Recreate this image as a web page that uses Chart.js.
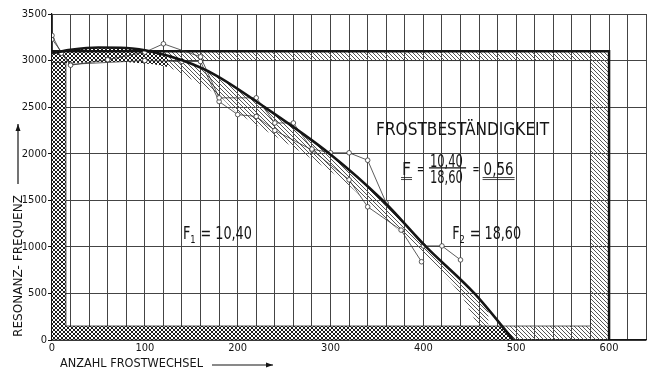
<!DOCTYPE html>
<html>
<head>
<meta charset="utf-8">
<script src="https://cdn.jsdelivr.net/npm/chart.js@4.4.1/dist/chart.umd.min.js"></script>
<style>
  html, body { margin: 0; padding: 0; background: #fff; }
  #box { width: 651px; height: 372px; }
</style>
</head>
<body>
<div id="box"><canvas id="myChart"></canvas></div>
<script>
// values
const curveX = [0, 20, 50, 80, 110, 141, 175, 229, 299, 356, 403, 455, 497];
const curveY = [3080, 3115, 3140, 3135, 3090, 3000, 2850, 2500, 2000, 1500, 1000, 500, 0];

// inner edge of the hatched band under the curve
const bandX = [0, 20, 50, 80, 110, 125, 150, 180, 200, 245, 285, 315, 345, 382, 417, 439, 457, 470];
const bandY = [2980, 2975, 2985, 2985, 2960, 2930, 2800, 2620, 2440, 2160, 1910, 1700, 1430, 1100, 750, 505, 190, 0];

// measured series (thin lines with circles)
const serAX = [0, 10, 20, 60, 100, 120, 160, 180, 220, 240, 260, 280, 300, 320, 340, 360, 400, 420, 440];
const serAY = [3270, 3080, 2950, 3010, 3090, 3180, 3040, 2600, 2600, 2330, 2330, 2050, 2010, 2010, 1930, 1470, 1010, 1010, 860];
const serBX = [0, 20, 100, 140, 160, 180, 200, 220, 240, 280, 320, 340, 376, 398];
const serBY = [3230, 2960, 3000, 2990, 2990, 2560, 2420, 2400, 2250, 2040, 1720, 1430, 1180, 840];

// frame and hatched areas
const frameX = [0, 600, 600];
const frameY = [3100, 3100, 0];
const hatchX = [100, 600, 600, 497, 483, 580, 580, 100];
const hatchY = [3100, 3100, 0, 0, 150, 150, 3000, 3000];
const crossX = [0, 497, 483, 15, 15, 0];
const crossY = [0, 0, 150, 150, 2980, 2980];
const capX = [0, 20, 50, 80, 110, 125, 125, 110, 80, 50, 20, 0];
const capY = [3080, 3115, 3140, 3135, 3090, 3050, 2930, 2960, 2985, 2985, 2975, 2980];

const fam = "'DejaVu Sans Condensed', 'DejaVu Sans', sans-serif";
const ink = '#151515';

function pts(xs, ys) {
  return xs.map((v, i) => ({x: v, y: ys[i]}));
}

function hatch(gap, color, both, bg) {
  const c = document.createElement('canvas');
  c.width = gap; c.height = gap;
  const g = c.getContext('2d');
  if (bg) { g.fillStyle = bg; g.fillRect(0, 0, gap, gap); }
  g.strokeStyle = color;
  g.lineWidth = 1;
  g.beginPath();
  for (let k = -1; k <= 1; k++) {
    g.moveTo(k * gap, 0); g.lineTo(k * gap + gap, gap);
    if (both) { g.moveTo(k * gap + gap, 0); g.lineTo(k * gap, gap); }
  }
  g.stroke();
  return g.createPattern(c, 'repeat');
}

const diag = hatch(4, '#555', false, null);
const cross = hatch(4, '#1a1a1a', true, '#fff');

// text squeezed to a width, like the narrow lettering of the scan
function fitText(ctx, txt, px, py, size, width) {
  ctx.font = size + 'px ' + fam;
  const w = ctx.measureText(txt).width;
  ctx.save();
  ctx.translate(px, py);
  ctx.scale(width / w, 1);
  ctx.fillText(txt, 0, 0);
  ctx.restore();
}

function fLabel(ctx, px, py, sub, rest, width) {
  ctx.font = '17px ' + fam;
  const w1 = ctx.measureText('F').width;
  const w3 = ctx.measureText(rest).width;
  ctx.font = '11px ' + fam;
  const w2 = ctx.measureText(sub).width + 1;
  const s = width / (w1 + w2 + w3);
  ctx.save();
  ctx.translate(px, py);
  ctx.scale(s, 1);
  ctx.font = '17px ' + fam;
  ctx.fillText('F', 0, 0);
  ctx.fillText(rest, w1 + w2, 0);
  ctx.font = '11px ' + fam;
  ctx.fillText(sub, w1, 4);
  ctx.restore();
}

function arrow(ctx, x1, y1, x2, y2) {
  const a = Math.atan2(y2 - y1, x2 - x1);
  ctx.beginPath();
  ctx.moveTo(x1, y1); ctx.lineTo(x2, y2);
  ctx.lineWidth = 1.2;
  ctx.stroke();
  ctx.beginPath();
  ctx.moveTo(x2, y2);
  ctx.lineTo(x2 - 7 * Math.cos(a) + 2.5 * Math.sin(a), y2 - 7 * Math.sin(a) - 2.5 * Math.cos(a));
  ctx.lineTo(x2 - 7 * Math.cos(a) - 2.5 * Math.sin(a), y2 - 7 * Math.sin(a) + 2.5 * Math.cos(a));
  ctx.closePath();
  ctx.fill();
}

const notes = {
  id: 'notes',
  afterDatasetsDraw(chart) {
    const {ctx, chartArea: a, scales: {x, y}} = chart;
    ctx.save();
    ctx.fillStyle = ink;
    ctx.strokeStyle = ink;
    ctx.textAlign = 'left';
    ctx.textBaseline = 'alphabetic';

    fLabel(ctx, x.getPixelForValue(141), y.getPixelForValue(1084), '1', ' = 10,40', 69);
    fLabel(ctx, x.getPixelForValue(431), y.getPixelForValue(1084), '2', ' = 18,60', 69);

    fitText(ctx, 'FROSTBESTÄNDIGKEIT', x.getPixelForValue(349), y.getPixelForValue(2201), 18, 173);

    // F = 10,40 / 18,60 = 0,56
    const fx = x.getPixelForValue(377), by = y.getPixelForValue(1771);
    fitText(ctx, 'F', fx, by, 18, 9);
    fitText(ctx, '=', fx + 15, by - 1, 16, 7);
    fitText(ctx, '10,40', x.getPixelForValue(406) + 1, y.getPixelForValue(1857), 17, 33);
    fitText(ctx, '18,60', x.getPixelForValue(406) + 1, y.getPixelForValue(1686), 17, 33);
    ctx.lineWidth = 1.2;
    ctx.beginPath();
    const barY = y.getPixelForValue(1847);
    ctx.moveTo(x.getPixelForValue(406), barY); ctx.lineTo(x.getPixelForValue(446), barY);
    ctx.stroke();
    const ex = x.getPixelForValue(453);
    fitText(ctx, '=', ex, by - 1, 16, 7);
    fitText(ctx, '0,56', ex + 11, by, 18, 30);
    ctx.lineWidth = 0.8;
    ctx.beginPath();
    for (const off of [2.5, 4.5]) {
      ctx.moveTo(fx - 1, by + off); ctx.lineTo(fx + 10, by + off);
      ctx.moveTo(ex + 10, by + off); ctx.lineTo(ex + 42, by + off);
    }
    ctx.stroke();

    // axis titles with arrows
    fitText(ctx, 'ANZAHL FROSTWECHSEL', a.left + 8, 367, 12, 143);
    arrow(ctx, a.left + 160, 365, a.left + 221, 365);

    ctx.save();
    ctx.translate(22, 337);
    ctx.rotate(-Math.PI / 2);
    fitText(ctx, 'RESONANZ- FREQUENZ', 0, 0, 12, 142);
    ctx.restore();
    arrow(ctx, 18, 184, 18, 124);
    ctx.restore();
  }
};

const lineBase = {pointRadius: 0, fill: false, tension: 0};

const config = {
  type: 'line',
  data: {
    datasets: [
      // hatched band along the curve
      {...lineBase, data: pts(curveX, curveY), cubicInterpolationMode: 'monotone', borderColor: 'transparent', borderWidth: 0, fill: '+1', backgroundColor: diag, order: 6},
      {...lineBase, data: pts(bandX, bandY), tension: 0.3, borderColor: 'transparent', borderWidth: 0, order: 6},
      // hatched frame
      {...lineBase, data: pts(hatchX, hatchY), borderColor: '#333', borderWidth: 0.8, fill: 'shape', backgroundColor: diag, order: 5},
      // cross hatched areas
      {...lineBase, data: pts(crossX, crossY), borderColor: '#222', borderWidth: 0.8, fill: 'shape', backgroundColor: cross, order: 4},
      {...lineBase, data: pts(capX, capY), borderColor: 'transparent', borderWidth: 0, fill: 'shape', backgroundColor: cross, order: 4},
      // outer frame
      {...lineBase, data: pts(frameX, frameY), borderColor: ink, borderWidth: 2.5, order: 3},
      // measured values
      {...lineBase, data: pts(serAX, serAY), borderColor: '#333', borderWidth: 0.8, pointRadius: 2.3, pointBorderWidth: 0.8, pointBorderColor: '#333', pointBackgroundColor: '#fff', order: 2},
      {...lineBase, data: pts(serBX, serBY), borderColor: '#333', borderWidth: 0.8, pointRadius: 2.3, pointBorderWidth: 0.8, pointBorderColor: '#333', pointBackgroundColor: '#fff', order: 2},
      // fitted curve
      {...lineBase, data: pts(curveX, curveY), cubicInterpolationMode: 'monotone', borderColor: ink, borderWidth: 2.6, order: 1}
    ]
  },
  options: {
    animation: false,
    responsive: true,
    maintainAspectRatio: false,
    layout: {padding: {top: 14, right: 4, left: 0, bottom: 0}},
    plugins: {legend: {display: false}, tooltip: {enabled: false}},
    scales: {
      x: {
        type: 'linear', min: 0, max: 640,
        afterFit: s => { s.height = 32; },
        ticks: {
          stepSize: 20, autoSkip: false, maxRotation: 0, padding: 2, color: ink,
          font: {family: fam, size: 11},
          callback: v => (v % 100 === 0 ? String(v) : '')
        },
        grid: {color: '#444', lineWidth: 1, drawTicks: false},
        border: {color: ink, width: 1.2}
      },
      y: {
        min: 0, max: 3500,
        afterFit: s => { s.width = 52; },
        ticks: {stepSize: 500, padding: 1, color: ink, font: {family: fam, size: 11}, callback: v => String(v)},
        grid: {color: '#444', lineWidth: 1, tickLength: 4, tickColor: ink},
        border: {color: ink, width: 1.2}
      }
    }
  },
  plugins: [notes]
};

const myChart = new Chart(document.getElementById('myChart'), config);
</script>
</body>
</html>
